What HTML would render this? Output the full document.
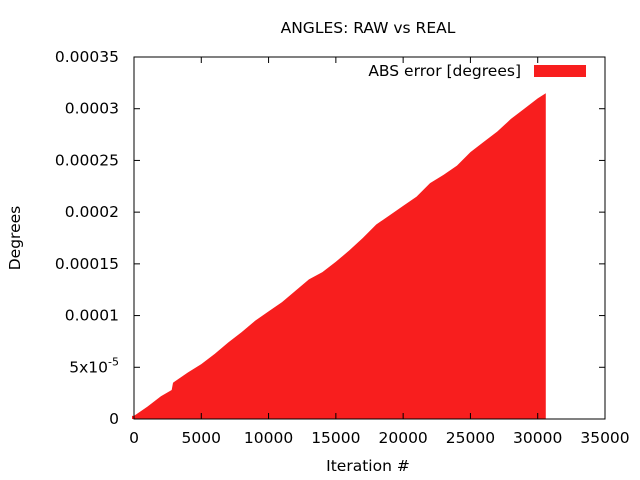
<!DOCTYPE html>
<html><head><meta charset="utf-8"><style>
body{margin:0;background:#fff}
svg{display:block;font-family:"DejaVu Sans",sans-serif}
</style></head><body>
<svg id="c" width="640" height="480" viewBox="0 0 640 480"></svg>
<script>
const iters=[0,1000,2000,2800,2900,3000,4000,5000,6000,7000,8000,9000,10000,11000,12000,13000,14000,15000,16000,17000,18000,19000,20000,21000,22000,23000,24000,25000,26000,27000,28000,29000,30000,30600];
const values=[0.000003,0.000012,0.000022,0.000028,0.000035,0.000036,0.000045,0.000053,0.000063,0.000074,0.000084,0.000095,0.000104,0.000113,0.000124,0.000135,0.000142,0.000152,0.000163,0.000175,0.000188,0.000197,0.000206,0.000215,0.000228,0.000236,0.000245,0.000258,0.000268,0.000278,0.000290,0.000300,0.000310,0.000315];
const xTicks=[0,5000,10000,15000,20000,25000,30000,35000];
const yTicks=[0,0.00005,0.0001,0.00015,0.0002,0.00025,0.0003,0.00035];
const yLabels=["0","5x10-5","0.0001","0.00015","0.0002","0.00025","0.0003","0.00035"];
const L=134,R=605,T=57,B=419;
const sx=v=>L+v/35000*(R-L), sy=v=>B-v/0.00035*(B-T);
const svg=document.getElementById('c');
const NS='http://www.w3.org/2000/svg';
function mk(tag,attrs,parent){const e=document.createElementNS(NS,tag);for(const k in attrs)e.setAttribute(k,attrs[k]);(parent||svg).appendChild(e);return e;}
let d='M'+(sx(iters[0])-2)+','+B+' L'+(sx(iters[0])-2)+','+sy(values[0]);
for(let i=0;i<iters.length;i++){d+=' L'+sx(iters[i])+','+sy(values[i]);}
d+=' L'+sx(iters[iters.length-1])+','+B+' Z';
const area=mk('path',{d:d,fill:'#f81e1e'});


const fr=mk('rect',{x:L,y:T,width:R-L,height:B-T,fill:'none',stroke:'#000','stroke-width':1});


xTicks.forEach(v=>{const x=sx(v);
 mk('line',{x1:x,y1:B,x2:x,y2:B-6,stroke:'#000'});mk('line',{x1:x,y1:T,x2:x,y2:T+6,stroke:'#000'});
 const t=mk('text',{x:x,y:B+24,'text-anchor':'middle','font-size':15.5,fill:'#000'});t.textContent=v;
 
 
});
yTicks.forEach((v,i)=>{const y=sy(v);
 mk('line',{x1:L,y1:y,x2:L+6,y2:y,stroke:'#000'});mk('line',{x1:R,y1:y,x2:R-6,y2:y,stroke:'#000'});
 const t=mk('text',{x:119,y:y+5,'text-anchor':'end','font-size':15.5,fill:'#000'});
 if(i==1){t.innerHTML='5x10<tspan dy="-7" font-size="11">-5</tspan>';}else t.textContent=yLabels[i];
 
 
});
</script>
<svg style="position:absolute;left:0;top:0" width="640" height="480">
<text x="368" y="33" text-anchor="middle" font-size="15.5">ANGLES: RAW vs REAL</text>
<text x="368" y="471" text-anchor="middle" font-size="15.5">Iteration #</text>
<text x="20" y="238" text-anchor="middle" font-size="15.5" transform="rotate(-90 20 238)">Degrees</text>
<text x="521" y="76" text-anchor="end" font-size="15.5">ABS error [degrees]</text>
<rect x="534" y="65" width="52" height="12" fill="#f81e1e"/>
</svg>
</body></html>
